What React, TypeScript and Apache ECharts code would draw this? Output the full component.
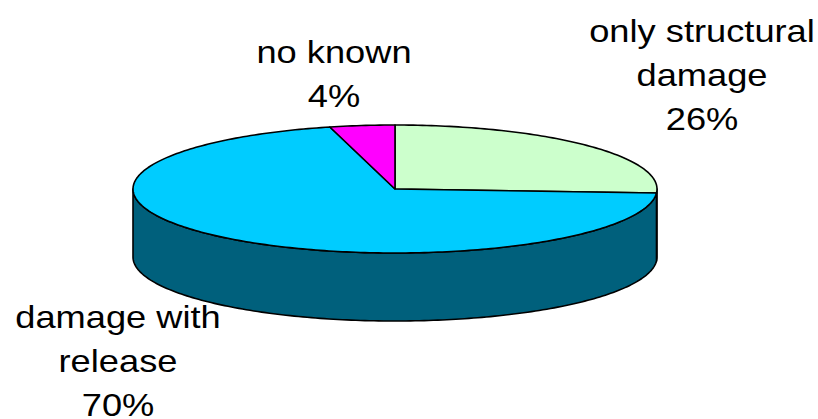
import React, { useEffect, useRef } from "react";
import * as echarts from "echarts";

// Slice data: category (with its label line breaks) and percentage share
const CATEGORIES = ["only structural\ndamage", "damage with\nrelease", "no known"];
const VALUES = [26, 70, 4];

// Face colours for the top of each slice and for its rim
const TOP_COLORS = ["#CCFFCC", "#00CCFF", "#FF00FF"];
const SIDE_COLORS = ["#8FB38F", "#00607C", "#B300B3"];

// Projected disc geometry (pixels)
const CX = 395;
const CY = 189;
const RX = 262;
const RY = 64;
const DEPTH = 68;

// Label anchors: centre x and top y of each text block
const LABEL_POS: [number, number][] = [
  [702, 9],
  [118, 295],
  [334, 30],
];

const TOTAL = VALUES.reduce((s, v) => s + v, 0);

function sliceAngles(i: number): [number, number] {
  let before = 0;
  for (let k = 0; k < i; k++) before += VALUES[k];
  const start = (before / TOTAL) * 360;
  const end = start + (VALUES[i] / TOTAL) * 360;
  return [start, end];
}

// Angle measured clockwise from 12 o'clock
function pt(deg: number, dy = 0): [number, number] {
  const r = (deg * Math.PI) / 180;
  return [CX + RX * Math.sin(r), CY - RY * Math.cos(r) + dy];
}

function arc(a: number, b: number, dy = 0): [number, number][] {
  const out: [number, number][] = [];
  for (let t = a; t < b; t += 1) out.push(pt(t, dy));
  out.push(pt(b, dy));
  return out;
}

const EDGE = { stroke: "#000", lineWidth: 1.6, lineJoin: "round" as const };

export default function App() {
  const ref = useRef<HTMLDivElement>(null);

  useEffect(() => {
    if (!ref.current) return;
    const chart = echarts.init(ref.current, null, { renderer: "svg" });

    // Visible rim (front half of the disc) of each slice
    const sideItem = (params: any, api: any) => {
      const i = params.dataIndex;
      api.value(0);
      const [s, e] = sliceAngles(i);
      const a = Math.max(s, 90);
      const b = Math.min(e, 270);
      if (b <= a) return { type: "group", children: [] };
      const top = arc(a, b);
      const bottom = arc(a, b, DEPTH).reverse();
      return {
        type: "polygon",
        shape: { points: top.concat(bottom) },
        style: { fill: SIDE_COLORS[i], ...EDGE },
      };
    };

    // Top face wedge of each slice
    const topItem = (params: any, api: any) => {
      const i = params.dataIndex;
      api.value(0);
      const [s, e] = sliceAngles(i);
      const pts: [number, number][] = [[CX, CY], ...arc(s, e)];
      return {
        type: "polygon",
        shape: { points: pts },
        style: { fill: TOP_COLORS[i], ...EDGE },
      };
    };

    const labels = CATEGORIES.map((c, i) => ({
      type: "text",
      x: LABEL_POS[i][0],
      y: LABEL_POS[i][1],
      scaleX: 1.17,
      style: {
        text: `${c}\n${VALUES[i]}%`,
        fontSize: 31,
        fontFamily: '"Liberation Sans", Arial, sans-serif',
        fill: "#000",
        textAlign: "center",
        textVerticalAlign: "top",
        lineHeight: 44,
      },
    }));

    chart.setOption({
      animation: false,
      backgroundColor: "#fff",
      series: [
        {
          type: "custom",
          coordinateSystem: "none",
          silent: true,
          z: 1,
          data: VALUES.map((v) => [v]),
          renderItem: sideItem,
        },
        {
          type: "custom",
          coordinateSystem: "none",
          silent: true,
          z: 2,
          data: VALUES.map((v) => [v]),
          renderItem: topItem,
        },
      ],
      graphic: labels,
    });

    return () => chart.dispose();
  }, []);

  return (
    <div
      ref={ref}
      style={{ position: "fixed", left: 0, top: 0, width: 818, height: 419 }}
    />
  );
}
